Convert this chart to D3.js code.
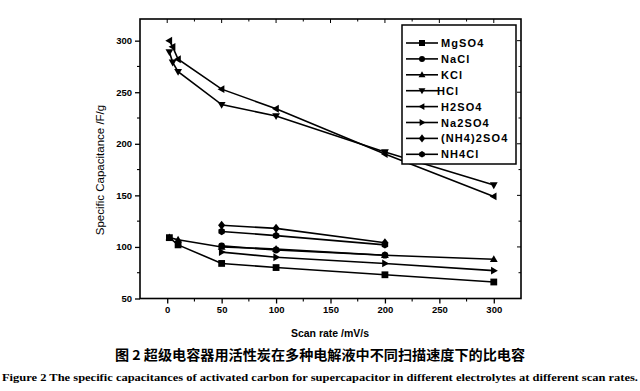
<!DOCTYPE html>
<html><head><meta charset="utf-8">
<script src="https://cdn.jsdelivr.net/npm/d3@7"></script>
<style>body{margin:0;background:#fff}svg{display:block}</style>
</head><body>
<svg id="c" width="640" height="391"></svg>
<script>
const seriesNames = ["MgSO4","NaCl","KCl","HCl","H2SO4","Na2SO4","(NH4)2SO4","NH4Cl"];
const symbols = ["square","circle","up","down","left","right","diamond","hex"];
const mgso4 = [[2,109],[10,102],[50,84],[100,80],[200,73],[300,66]];
const nacl = [[50,101],[100,97],[200,92]];
const kcl = [[2,109],[10,107],[50,100],[100,98],[200,92],[300,88]];
const hcl = [[2,289],[5,279],[10,270],[50,238],[100,227],[200,192],[300,160]];
const h2so4 = [[2,300],[5,294],[10,282],[50,253],[100,234],[200,190],[300,149]];
const na2so4 = [[50,95],[100,90],[200,84],[300,77]];
const nh42so4 = [[50,121],[100,118],[200,104]];
const nh4cl = [[50,115],[100,111],[200,102]];
const allSeries = [mgso4,nacl,kcl,hcl,h2so4,na2so4,nh42so4,nh4cl];
const xTicks = [0,50,100,150,200,250,300];
const yTicks = [50,100,150,200,250,300];
const xLabel = "Scan rate /mV/s";
const yLabel = "Specific Capacitance /F/g";
const captionCN = "图 2 超级电容器用活性炭在多种电解液中不同扫描速度下的比电容";
const captionEN = "Figure 2 The specific capacitances of activated carbon for supercapacitor in different electrolytes at different scan rates.";

const svg = d3.select("#c");
const L=140, R=521, T=19, B=298.5;
const x = d3.scaleLinear().domain([-25,325]).range([L,R]);
const y = d3.scaleLinear().domain([50,321]).range([B,T]);

function symPath(s, r){
  switch(s){
    case "square": return `M${-r},${-r}h${2*r}v${2*r}h${-2*r}Z`;
    case "circle": return d3.symbol(d3.symbolCircle, Math.PI*r*r)();
    case "hex": { let p=[]; for(let i=0;i<6;i++){const a=Math.PI/3*i+Math.PI/6; p.push([r*1.1*Math.cos(a), r*1.1*Math.sin(a)]);} return "M"+p.join("L")+"Z"; }
    case "up": return `M0,${-r*1.2}L${r*1.15},${r*0.8}L${-r*1.15},${r*0.8}Z`;
    case "down": return `M0,${r*1.2}L${r*1.15},${-r*0.8}L${-r*1.15},${-r*0.8}Z`;
    case "left": return `M${-r*1.2},0L${r*0.8},${-r*1.15}L${r*0.8},${r*1.15}Z`;
    case "right": return `M${r*1.2},0L${-r*0.8},${-r*1.15}L${-r*0.8},${r*1.15}Z`;
    case "diamond": return `M0,${-r*1.35}L${r*1.05},0L0,${r*1.35}L${-r*1.05},0Z`;
  }
}

// frame
svg.append("rect").attr("x",L).attr("y",T).attr("width",R-L).attr("height",B-T)
  .attr("fill","none").attr("stroke","#000").attr("stroke-width",1.6);

// axes
const fontTick = "bold 9.5px 'Liberation Sans', Arial, sans-serif";
const xAxis = d3.axisBottom(x).tickValues(xTicks).tickSize(5).tickPadding(3).tickFormat(d3.format("d"));
const gx = svg.append("g").attr("transform",`translate(0,${B})`).call(xAxis);
const yAxis = d3.axisLeft(y).tickValues(yTicks).tickSize(5).tickPadding(3).tickFormat(d3.format("d"));
const gy = svg.append("g").attr("transform",`translate(${L},0)`).call(yAxis);
[gx,gy].forEach(g=>{
  g.select(".domain").remove();
  g.selectAll("line").attr("stroke","#000").attr("stroke-width",1.3);
  g.selectAll("text").style("font",fontTick).attr("fill","#000");
});
// minor ticks
const xMinor = d3.range(-25,326,25).filter(v=>!xTicks.includes(v) && v>-25 && v<325);
svg.append("g").selectAll("line").data(xMinor).join("line")
  .attr("x1",d=>x(d)).attr("x2",d=>x(d)).attr("y1",B).attr("y2",B+3).attr("stroke","#000").attr("stroke-width",1.1);
const yMinor = [75,125,175,225,275,300+0].filter(v=>!yTicks.includes(v));
svg.append("g").selectAll("line").data(yMinor).join("line")
  .attr("x1",L-3).attr("x2",L).attr("y1",d=>y(d)).attr("y2",d=>y(d)).attr("stroke","#000").attr("stroke-width",1.1);
// mirrored ticks (inward) on right and top
svg.append("g").selectAll("line").data(yTicks.concat(yMinor)).join("line")
  .attr("x1",R).attr("x2",d=>R-(yTicks.includes(d)?4:2.5)).attr("y1",d=>y(d)).attr("y2",d=>y(d)).attr("stroke","#000").attr("stroke-width",1);
svg.append("g").selectAll("line").data(xTicks.concat(xMinor)).join("line")
  .attr("x1",d=>x(d)).attr("x2",d=>x(d)).attr("y1",T).attr("y2",d=>T+(xTicks.includes(d)?4:2.5)).attr("stroke","#000").attr("stroke-width",1);

// axis labels
svg.append("text").attr("x",330).attr("y",337).attr("text-anchor","middle")
  .style("font","bold 10.5px 'Liberation Sans', Arial, sans-serif").text(xLabel);
svg.append("text").attr("transform",`translate(104,170) rotate(-90)`).attr("text-anchor","middle")
  .style("font","11.5px 'Liberation Sans', Arial, sans-serif").text(yLabel);

// series
const line = d3.line().x(d=>x(d[0])).y(d=>y(d[1]));
allSeries.forEach((s,i)=>{
  const g = svg.append("g");
  g.append("path").datum(s).attr("d",line).attr("fill","none").attr("stroke","#000").attr("stroke-width",1.6);
  g.selectAll("path.m").data(s).join("path").attr("class","m")
    .attr("transform",d=>`translate(${x(d[0])},${y(d[1])})`)
    .attr("d",symPath(symbols[i],3.4)).attr("fill","#000");
});

// legend
const lg = svg.append("g");
lg.append("rect").attr("x",402).attr("y",25).attr("width",114).attr("height",139)
  .attr("fill","#fff").attr("stroke","#000").attr("stroke-width",1.5);
seriesNames.forEach((n,i)=>{
  const yy = 43 + i*15.9;
  lg.append("line").attr("x1",406).attr("x2",438).attr("y1",yy).attr("y2",yy).attr("stroke","#000").attr("stroke-width",1.6);
  lg.append("path").attr("transform",`translate(422,${yy})`).attr("d",symPath(symbols[i],3)).attr("fill","#000");
  lg.append("text").attr("x",n==="HCl"?437:441).attr("y",yy+4)
    .style("font","bold 11px 'Liberation Sans', Arial, sans-serif").style("letter-spacing","1.1px").text(n);
});

// captions
svg.append("text").attr("x",320).attr("y",360).attr("text-anchor","middle")
  .attr("textLength",410).attr("lengthAdjust","spacingAndGlyphs")
  .style("font","bold 13.5px 'Noto Sans CJK SC', sans-serif").text(captionCN);
svg.append("text").attr("x",2).attr("y",381)
  .attr("textLength",636).attr("lengthAdjust","spacingAndGlyphs")
  .style("font","bold 11px 'Liberation Serif', 'Times New Roman', serif").text(captionEN);
</script>
</body></html>
